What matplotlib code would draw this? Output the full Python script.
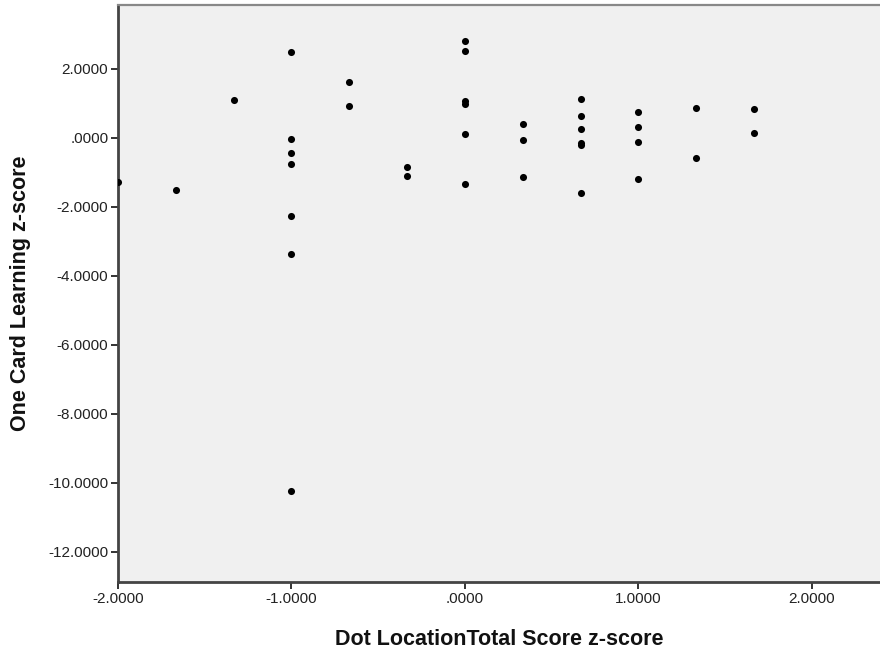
import matplotlib
matplotlib.use("Agg")
import matplotlib.pyplot as plt
from matplotlib.ticker import FuncFormatter

# Dot Location Total Score z-score (x) vs One Card Learning z-score (y)
dot_location_z = [
    -2.0, -1.6667, -1.3333,
    -1.0, -1.0, -1.0, -1.0, -1.0, -1.0, -1.0,
    -0.6667, -0.6667,
    -0.3333, -0.3333,
    0.0, 0.0, 0.0, 0.0, 0.0, 0.0,
    0.3333, 0.3333, 0.3333,
    0.6667, 0.6667, 0.6667, 0.6667, 0.6667, 0.6667,
    1.0, 1.0, 1.0, 1.0,
    1.3333, 1.3333,
    1.6667, 1.6667,
]
one_card_z = [
    -1.275, -1.51, 1.10,
    2.49, -0.04, -0.44, -0.76, -2.27, -3.37, -10.24,
    1.62, 0.92,
    -0.83, -1.11,
    2.82, 2.51, 1.06, 0.98, 0.11, -1.32,
    0.41, -0.05, -1.14,
    1.14, 0.64, 0.25, -0.14, -0.19, -1.59,
    0.75, 0.31, -0.11, -1.20,
    0.88, -0.58,
    0.85, 0.14,
]

x_ticks = [-2, -1, 0, 1, 2]
y_ticks = [2, 0, -2, -4, -6, -8, -10, -12]


def spss_fmt(v, _pos=None):
    s = f"{v:.4f}"
    if s in ("0.0000", "-0.0000"):
        return ".0000"
    return s


plt.rcParams["font.family"] = ["Liberation Sans", "DejaVu Sans"]

fig = plt.figure(figsize=(8.8, 6.51), dpi=100)
fig.patch.set_facecolor("white")

W, H = 880, 651
left, right, top, bottom = 118, 880, 5, 582
ax = fig.add_axes([left / W, (H - bottom) / H, (right - left) / W, (bottom - top) / H])
ax.set_facecolor("#F0F0F0")

ax.scatter(dot_location_z, one_card_z, s=26, color="black", linewidths=0, zorder=3)

ax.set_xlim(-2.0, 2.392)
ax.set_ylim(-12.87, 3.855)
ax.set_xticks(x_ticks)
ax.set_yticks(y_ticks)
ax.xaxis.set_major_formatter(FuncFormatter(spss_fmt))
ax.yaxis.set_major_formatter(FuncFormatter(spss_fmt))

ax.tick_params(axis="both", direction="out", length=5, width=1.4, color="#333333",
               labelsize=11, labelcolor="#222222", pad=2)

for side in ("left", "bottom"):
    ax.spines[side].set_color("#444444")
    ax.spines[side].set_linewidth(2.0)
ax.spines["top"].set_color("#888888")
ax.spines["top"].set_linewidth(1.6)
ax.spines["right"].set_visible(False)

ax.set_xlabel("Dot LocationTotal Score z-score", fontsize=15.5, fontweight="bold",
              color="#111111", labelpad=17)
ax.set_ylabel("One Card Learning z-score", fontsize=15.5, fontweight="bold",
              color="#111111", labelpad=12)

fig.savefig("out.png", dpi=100)
